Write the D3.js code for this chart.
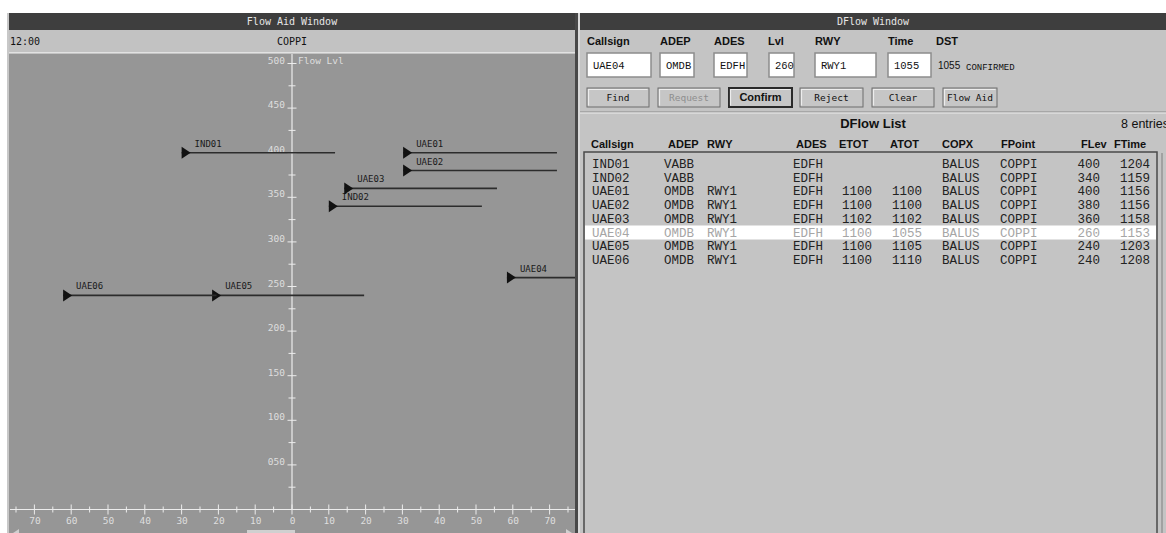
<!DOCTYPE html>
<html>
<head>
<meta charset="utf-8">
<script src="https://cdn.jsdelivr.net/npm/d3@7"></script>
<style>
  body { margin: 0; background: #fff; overflow: hidden; }
  svg { display: block; }
</style>
</head>
<body>
<svg id="chart" width="1166" height="533" font-family="DejaVu Sans Mono, monospace"></svg>
<script>
// flights shown in the flow plot and in the list
const callsigns = ["IND01", "IND02", "UAE01", "UAE02", "UAE03", "UAE04", "UAE05", "UAE06"];
const flowLevels = [400, 340, 400, 380, 360, 260, 240, 240];
const flowStart = [-30, 10, 30.2, 30.2, 14.2, 58.4, -21.7, -62.2];
const flowEnd = [11.7, 51.6, 72, 72, 55.7, 100, 19.6, -20.5];

// list columns
const adep = ["VABB", "VABB", "OMDB", "OMDB", "OMDB", "OMDB", "OMDB", "OMDB"];
const rwy = ["", "", "RWY1", "RWY1", "RWY1", "RWY1", "RWY1", "RWY1"];
const ades = ["EDFH", "EDFH", "EDFH", "EDFH", "EDFH", "EDFH", "EDFH", "EDFH"];
const etot = ["", "", "1100", "1100", "1102", "1100", "1100", "1100"];
const atot = ["", "", "1100", "1100", "1102", "1055", "1105", "1110"];
const copx = ["BALUS", "BALUS", "BALUS", "BALUS", "BALUS", "BALUS", "BALUS", "BALUS"];
const fpoint = ["COPPI", "COPPI", "COPPI", "COPPI", "COPPI", "COPPI", "COPPI", "COPPI"];
const ftime = ["1204", "1159", "1156", "1156", "1158", "1153", "1203", "1208"];
const selectedRow = 5;

// axis ticks
const xTicks = d3.range(-75, 76, 5);
const yTicks = d3.range(25, 501, 25);
const yLabels = d3.range(50, 501, 50);

// form
const formLabels = ["Callsign", "ADEP", "ADES", "Lvl", "RWY", "Time", "DST"];
const formValues = ["UAE04", "OMDB", "EDFH", "260", "RWY1", "1055"];
const buttonLabels = ["Find", "Request", "Confirm", "Reject", "Clear", "Flow Aid"];
const tableHeaders = ["Callsign", "ADEP", "RWY", "ADES", "ETOT", "ATOT", "COPX", "FPoint", "FLev", "FTime"];

const SANS = "Liberation Sans, Arial, sans-serif";
const MONO = "Liberation Mono, monospace";

const svg = d3.select("#chart");

// ---------- left window ----------
const left = svg.append("g");
left.append("rect").attr("x", 7).attr("y", 13).attr("width", 2).attr("height", 520).attr("fill", "#c8c8c8");
left.append("rect").attr("x", 9).attr("y", 13).attr("width", 566).attr("height", 17).attr("fill", "#3e3e3e");
left.append("text").attr("x", 292).attr("y", 25).attr("text-anchor", "middle")
  .attr("font-size", 10).attr("fill", "#e6e6e6").text("Flow Aid Window");
left.append("rect").attr("x", 9).attr("y", 30).attr("width", 566).attr("height", 22).attr("fill", "#c2c2c2");
left.append("text").attr("x", 10).attr("y", 45).attr("font-size", 10).attr("fill", "#111").text("12:00");
left.append("text").attr("x", 292).attr("y", 45).attr("text-anchor", "middle")
  .attr("font-size", 10).attr("fill", "#111").text("COPPI");
left.append("rect").attr("x", 9).attr("y", 52).attr("width", 566).attr("height", 1.5).attr("fill", "#e2e2e2");
left.append("rect").attr("x", 9).attr("y", 53.5).attr("width", 566).attr("height", 480).attr("fill", "#969696");

svg.append("clipPath").attr("id", "plotClip")
  .append("rect").attr("x", 9).attr("y", 54).attr("width", 566).attr("height", 476);

const x = d3.scaleLinear().domain([-75, 75]).range([292 - 75 * 3.68, 292 + 75 * 3.68]);
const y = d3.scaleLinear().domain([0, 500]).range([509.5, 63.5]);
const axisColor = "#ececec";

const plot = left.append("g").attr("clip-path", "url(#plotClip)");

// x axis
const xAxis = plot.append("g")
  .attr("transform", `translate(0,${y(0)})`)
  .call(d3.axisBottom(x).tickValues(xTicks).tickSize(0).tickPadding(8)
    .tickFormat(d => d % 10 === 0 ? Math.abs(d) : ""));
xAxis.select(".domain").remove();
xAxis.selectAll("text").attr("font-family", "DejaVu Sans Mono").attr("font-size", 9.5).attr("fill", "#dedede");
plot.append("line").attr("x1", 10).attr("x2", 575).attr("y1", y(0)).attr("y2", y(0))
  .attr("stroke", axisColor).attr("stroke-width", 1.2);
plot.selectAll(".xtick").data(xTicks).join("line")
  .attr("class", "xtick")
  .attr("x1", d => x(d)).attr("x2", d => x(d))
  .attr("y1", d => y(0) - (d % 10 === 0 ? 5 : 3))
  .attr("y2", d => y(0) + (d % 10 === 0 ? 5 : 3))
  .attr("stroke", axisColor).attr("stroke-width", 1);

// y axis
plot.append("line").attr("x1", x(0)).attr("x2", x(0)).attr("y1", 54).attr("y2", y(0))
  .attr("stroke", axisColor).attr("stroke-width", 1.2);
const yAxis = plot.append("g")
  .attr("transform", `translate(${x(0) - 7},0)`)
  .call(d3.axisLeft(y).tickValues(yLabels).tickSize(0).tickPadding(0).tickFormat(d3.format("03d")));
yAxis.select(".domain").remove();
yAxis.selectAll("text").attr("font-family", "DejaVu Sans Mono").attr("font-size", 9.5)
  .attr("fill", "#dedede").attr("dy", "-0.05em");
plot.selectAll(".ytick").data(yTicks).join("line")
  .attr("class", "ytick")
  .attr("x1", d => x(0) - (d % 50 === 0 ? 4.5 : 3.5))
  .attr("x2", d => x(0) + (d % 50 === 0 ? 4.5 : 3.5))
  .attr("y1", d => y(d)).attr("y2", d => y(d))
  .attr("stroke", axisColor).attr("stroke-width", 1);
plot.append("text").attr("x", x(0) + 6).attr("y", y(500))
  .attr("font-size", 9.5).attr("fill", "#dedede").text("Flow Lvl");

// flights
const flights = plot.selectAll(".flight").data(callsigns).join("g").attr("class", "flight");
flights.append("line")
  .attr("x1", (d, i) => x(flowStart[i])).attr("x2", (d, i) => x(flowEnd[i]))
  .attr("y1", (d, i) => y(flowLevels[i])).attr("y2", (d, i) => y(flowLevels[i]))
  .attr("stroke", "#2c2c2c").attr("stroke-width", 1.6);
flights.append("path")
  .attr("d", (d, i) => {
    const px = x(flowStart[i]), py = y(flowLevels[i]);
    return `M${px},${py - 6}L${px + 9},${py}L${px},${py + 6}Z`;
  })
  .attr("fill", "#111");
flights.append("text")
  .attr("x", (d, i) => x(flowStart[i]) + 13)
  .attr("y", (d, i) => y(flowLevels[i]) - 6)
  .attr("font-size", 9).attr("fill", "#1a1a1a").text(d => d);

// bottom scrollbar hint
left.append("rect").attr("x", 247).attr("y", 530).attr("width", 48).attr("height", 3).attr("fill", "#d0d0d0");
left.append("path").attr("d", "M13,533L19,529L19,533Z").attr("fill", "#d0d0d0");
left.append("path").attr("d", "M566,529L572,533L566,533Z").attr("fill", "#d0d0d0");

// panel separator
svg.append("rect").attr("x", 575).attr("y", 13).attr("width", 3).attr("height", 520).attr("fill", "#484848");
svg.append("rect").attr("x", 578).attr("y", 13).attr("width", 2).attr("height", 520).attr("fill", "#dadada");

// ---------- right window ----------
const right = svg.append("g");
right.append("rect").attr("x", 580).attr("y", 13).attr("width", 586).attr("height", 520).attr("fill", "#c4c4c4");
right.append("rect").attr("x", 580).attr("y", 13).attr("width", 586).attr("height", 17).attr("fill", "#3e3e3e");
right.append("text").attr("x", 873).attr("y", 25).attr("text-anchor", "middle")
  .attr("font-size", 10).attr("fill", "#e6e6e6").text("DFlow Window");

const labelX = [587, 660, 714, 768, 815, 888, 936];
right.selectAll(".flabel").data(formLabels).join("text")
  .attr("class", "flabel")
  .attr("x", (d, i) => labelX[i]).attr("y", 45)
  .attr("font-family", SANS).attr("font-weight", "bold")
  .attr("font-size", 11).attr("fill", "#111").text(d => d);

const fieldX = [587, 660, 714, 769, 815, 888];
const fieldW = [64, 34, 33, 25, 61, 43];
const fields = right.selectAll(".field").data(formValues).join("g").attr("class", "field");
fields.append("rect")
  .attr("x", (d, i) => fieldX[i]).attr("y", 53).attr("width", (d, i) => fieldW[i]).attr("height", 24)
  .attr("fill", "#fff").attr("stroke", "#8c8c8c").attr("stroke-width", 1.5);
fields.append("text")
  .attr("x", (d, i) => fieldX[i] + 6).attr("y", 69)
  .attr("font-family", MONO).attr("font-size", 10.5).attr("fill", "#111").text(d => d);
right.append("text").attr("x", 938).attr("y", 69)
  .attr("font-family", SANS).attr("font-size", 10).attr("fill", "#111").text(formValues[5]);
right.append("text").attr("x", 966).attr("y", 70)
  .attr("font-family", MONO).attr("font-size", 9).attr("fill", "#111").text("CONFIRMED");

const buttonX = [587, 658, 729, 800, 872, 943];
const buttonW = [62, 62, 63, 63, 62, 54];
const buttons = right.selectAll(".btn").data(buttonLabels).join("g").attr("class", "btn");
buttons.append("rect")
  .attr("x", (d, i) => buttonX[i]).attr("y", 88).attr("width", (d, i) => buttonW[i]).attr("height", 19)
  .attr("fill", "#c6c6c6")
  .attr("stroke", d => d === "Confirm" ? "#2a2a2a" : "#6c6c6c")
  .attr("stroke-width", d => d === "Confirm" ? 2 : 1);
buttons.append("path")
  .attr("d", (d, i) => `M${buttonX[i] + 1.5},${88 + 17.5}V${89.5}H${buttonX[i] + buttonW[i] - 1.5}`)
  .attr("fill", "none").attr("stroke", "#ededed").attr("stroke-width", 1.2);
buttons.append("text")
  .attr("x", (d, i) => buttonX[i] + buttonW[i] / 2).attr("y", 101)
  .attr("text-anchor", "middle")
  .attr("font-family", d => d === "Confirm" ? SANS : "DejaVu Sans Mono, monospace")
  .attr("font-weight", d => d === "Confirm" ? "bold" : "normal")
  .attr("font-size", d => d === "Confirm" ? 11 : 9.5)
  .attr("fill", d => d === "Request" ? "#8e8e8e" : "#111")
  .text(d => d);

right.append("line").attr("x1", 580).attr("x2", 1166).attr("y1", 112).attr("y2", 112).attr("stroke", "#8a8a8a");
right.append("line").attr("x1", 580).attr("x2", 1166).attr("y1", 113).attr("y2", 113).attr("stroke", "#ececec");
right.append("text").attr("x", 873).attr("y", 128).attr("text-anchor", "middle")
  .attr("font-family", SANS).attr("font-weight", "bold")
  .attr("font-size", 13).attr("fill", "#111").text("DFlow List");
right.append("text").attr("x", 1121).attr("y", 128)
  .attr("font-family", SANS)
  .attr("font-size", 12.5).attr("fill", "#111").text(callsigns.length + " entries");

const headerX = [591, 668, 707, 796, 839, 890, 942, 1001, 1081, 1114];
right.selectAll(".thead").data(tableHeaders).join("text")
  .attr("class", "thead")
  .attr("x", (d, i) => headerX[i]).attr("y", 148)
  .attr("font-family", SANS).attr("font-weight", "bold")
  .attr("font-size", 11).attr("fill", "#111").text(d => d);

// list box
right.append("rect").attr("x", 584).attr("y", 152).attr("width", 573).attr("height", 385)
  .attr("fill", "#c4c4c4").attr("stroke", "#4a4a4a").attr("stroke-width", 1.5);
right.append("line").attr("x1", 1162).attr("x2", 1162).attr("y1", 153).attr("y2", 533)
  .attr("stroke", "#8a8a8a").attr("stroke-width", 1.2);

const rowY = d3.scaleLinear().domain([0, 1]).range([168, 181.7]);
right.append("rect").attr("x", 585).attr("y", rowY(selectedRow) - 11).attr("width", 571).attr("height", 14)
  .attr("fill", "#ffffff");

const columns = [
  { values: callsigns, x: 592, anchor: "start" },
  { values: adep, x: 664, anchor: "start" },
  { values: rwy, x: 707, anchor: "start" },
  { values: ades, x: 793, anchor: "start" },
  { values: etot, x: 842, anchor: "start" },
  { values: atot, x: 892, anchor: "start" },
  { values: copx, x: 942, anchor: "start" },
  { values: fpoint, x: 1000, anchor: "start" },
  { values: flowLevels, x: 1100, anchor: "end" },
  { values: ftime, x: 1150, anchor: "end" }
];
columns.forEach(col => {
  right.append("g").selectAll("text").data(col.values).join("text")
    .attr("x", col.x).attr("y", (d, i) => rowY(i))
    .attr("text-anchor", col.anchor)
    .attr("font-family", MONO).attr("font-size", 12.5)
    .attr("fill", (d, i) => i === selectedRow ? "#a6a6a6" : "#222")
    .text(d => d);
});
</script>
</body>
</html>
